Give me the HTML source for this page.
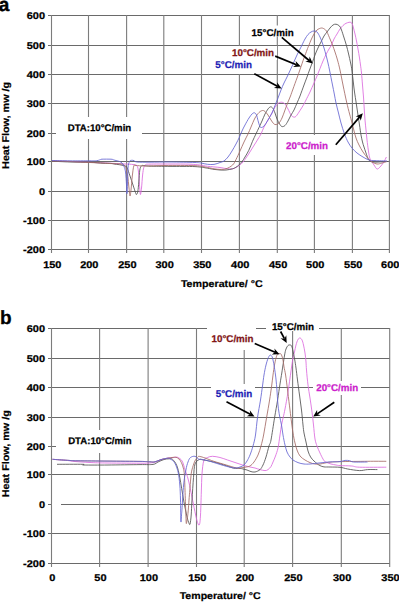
<!DOCTYPE html>
<html><head><meta charset="utf-8"><style>
html,body{margin:0;padding:0;background:#fff;}
body{width:399px;height:602px;overflow:hidden;}
svg{display:block;}
text{font-family:"Liberation Sans",sans-serif;font-weight:bold;text-rendering:geometricPrecision;}
</style></head><body>
<svg width="399" height="602" viewBox="0 0 399 602">
<rect width="399" height="602" fill="#fff"/>
<rect x="48" y="15" width="342" height="1" fill="#6a6a6a"/>
<rect x="48" y="45" width="342" height="1" fill="#6a6a6a"/>
<rect x="48" y="74" width="342" height="1" fill="#6a6a6a"/>
<rect x="48" y="103" width="342" height="1" fill="#6a6a6a"/>
<rect x="48" y="133" width="342" height="1" fill="#6a6a6a"/>
<rect x="48" y="161" width="342" height="1" fill="#6a6a6a"/>
<rect x="48" y="191" width="342" height="1" fill="#6a6a6a"/>
<rect x="48" y="220" width="342" height="1" fill="#6a6a6a"/>
<rect x="48" y="249" width="342" height="1" fill="#6a6a6a"/>
<rect x="50.95" y="15" width="1.1" height="238" fill="#7c7c7c"/>
<rect x="87.95" y="15" width="1.1" height="238" fill="#7c7c7c"/>
<rect x="126.05" y="15" width="1.1" height="238" fill="#7c7c7c"/>
<rect x="163.25" y="15" width="1.1" height="238" fill="#7c7c7c"/>
<rect x="200.95" y="15" width="1.1" height="238" fill="#7c7c7c"/>
<rect x="238.85" y="15" width="1.1" height="238" fill="#7c7c7c"/>
<rect x="276.75" y="15" width="1.1" height="238" fill="#7c7c7c"/>
<rect x="313.84999999999997" y="15" width="1.1" height="238" fill="#7c7c7c"/>
<rect x="351.84999999999997" y="15" width="1.1" height="238" fill="#7c7c7c"/>
<rect x="388.84999999999997" y="15" width="1.1" height="238" fill="#7c7c7c"/>
<text transform="translate(45,18.5) scale(1.12,1)" font-size="9.8" text-anchor="end" fill="#000" stroke="#000" stroke-width="0.25">600</text>
<text transform="translate(45,48.5) scale(1.12,1)" font-size="9.8" text-anchor="end" fill="#000" stroke="#000" stroke-width="0.25">500</text>
<text transform="translate(45,77.5) scale(1.12,1)" font-size="9.8" text-anchor="end" fill="#000" stroke="#000" stroke-width="0.25">400</text>
<text transform="translate(45,106.5) scale(1.12,1)" font-size="9.8" text-anchor="end" fill="#000" stroke="#000" stroke-width="0.25">300</text>
<text transform="translate(45,136.5) scale(1.12,1)" font-size="9.8" text-anchor="end" fill="#000" stroke="#000" stroke-width="0.25">200</text>
<text transform="translate(45,164.5) scale(1.12,1)" font-size="9.8" text-anchor="end" fill="#000" stroke="#000" stroke-width="0.25">100</text>
<text transform="translate(45,194.5) scale(1.12,1)" font-size="9.8" text-anchor="end" fill="#000" stroke="#000" stroke-width="0.25">0</text>
<text transform="translate(45,223.5) scale(1.12,1)" font-size="9.8" text-anchor="end" fill="#000" stroke="#000" stroke-width="0.25">-100</text>
<text transform="translate(45,252.5) scale(1.12,1)" font-size="9.8" text-anchor="end" fill="#000" stroke="#000" stroke-width="0.25">-200</text>
<text transform="translate(52.3,267.5) scale(1.12,1)" font-size="9.8" text-anchor="middle" fill="#000" stroke="#000" stroke-width="0.25">150</text>
<text transform="translate(89.3,267.5) scale(1.12,1)" font-size="9.8" text-anchor="middle" fill="#000" stroke="#000" stroke-width="0.25">200</text>
<text transform="translate(127.39999999999999,267.5) scale(1.12,1)" font-size="9.8" text-anchor="middle" fill="#000" stroke="#000" stroke-width="0.25">250</text>
<text transform="translate(164.60000000000002,267.5) scale(1.12,1)" font-size="9.8" text-anchor="middle" fill="#000" stroke="#000" stroke-width="0.25">300</text>
<text transform="translate(202.3,267.5) scale(1.12,1)" font-size="9.8" text-anchor="middle" fill="#000" stroke="#000" stroke-width="0.25">350</text>
<text transform="translate(240.20000000000002,267.5) scale(1.12,1)" font-size="9.8" text-anchor="middle" fill="#000" stroke="#000" stroke-width="0.25">400</text>
<text transform="translate(278.1,267.5) scale(1.12,1)" font-size="9.8" text-anchor="middle" fill="#000" stroke="#000" stroke-width="0.25">450</text>
<text transform="translate(315.2,267.5) scale(1.12,1)" font-size="9.8" text-anchor="middle" fill="#000" stroke="#000" stroke-width="0.25">500</text>
<text transform="translate(353.2,267.5) scale(1.12,1)" font-size="9.8" text-anchor="middle" fill="#000" stroke="#000" stroke-width="0.25">550</text>
<text transform="translate(390.2,267.5) scale(1.12,1)" font-size="9.8" text-anchor="middle" fill="#000" stroke="#000" stroke-width="0.25">600</text>
<rect x="56" y="117" width="86" height="22" fill="#fff"/>
<rect x="281" y="135" width="53" height="20" fill="#fff"/>
<rect x="249" y="25.5" width="47" height="11" fill="#fff"/>
<rect x="230" y="46" width="47" height="14" fill="#fff"/>
<rect x="212" y="60" width="42" height="14" fill="#fff"/>
<path d="M52.0 160.8 C55.0 160.9 63.7 161.2 70.0 161.5 C76.3 161.8 83.3 162.0 90.0 162.3 C96.7 162.6 104.2 162.9 110.0 163.2 C115.8 163.5 121.2 163.8 125.0 164.0 C128.8 164.2 131.0 164.2 133.0 164.5 C135.0 164.8 136.1 164.6 137.0 165.8 C137.9 167.1 138.1 168.8 138.5 172.0 C138.9 175.2 139.2 181.2 139.5 185.0 C139.8 188.8 140.1 194.0 140.4 194.5 C140.7 195.0 141.1 191.2 141.5 188.0 C141.9 184.8 142.2 178.4 142.6 175.0 C143.0 171.6 143.3 169.2 143.8 167.5 C144.3 165.8 144.5 165.4 145.5 164.8 C146.5 164.2 145.9 164.2 150.0 164.1 C154.1 164.0 163.3 164.0 170.0 164.0 C176.7 164.0 185.0 164.0 190.0 164.2 C195.0 164.4 197.1 164.7 200.0 165.0 C202.9 165.3 204.2 165.9 207.5 166.3 C210.8 166.7 216.9 167.1 220.0 167.5 C223.1 167.9 223.9 168.3 226.0 168.5 C228.1 168.7 230.4 169.3 232.6 168.8 C234.8 168.3 237.2 166.8 238.9 165.7 C240.6 164.6 241.5 163.8 243.0 162.0 C244.5 160.2 246.3 157.5 248.0 155.0 C249.7 152.5 251.3 149.7 253.0 147.0 C254.7 144.3 256.7 141.2 258.0 139.0 C259.3 136.8 260.0 136.0 261.0 134.0 C262.0 132.0 262.8 129.3 264.0 127.0 C265.2 124.7 266.7 122.3 268.0 120.0 C269.3 117.7 270.8 115.2 272.0 113.0 C273.2 110.8 274.0 108.6 275.0 107.0 C276.0 105.4 276.9 104.3 278.0 103.5 C279.1 102.7 280.4 102.1 281.6 102.2 C282.8 102.3 283.9 102.9 285.0 104.0 C286.1 105.1 287.0 107.2 288.0 109.0 C289.0 110.8 290.1 113.7 291.0 115.0 C291.9 116.3 292.7 116.8 293.5 117.0 C294.3 117.2 294.9 117.4 296.0 116.3 C297.1 115.2 298.7 112.5 300.0 110.5 C301.3 108.5 303.0 105.8 304.0 104.0 C305.0 102.2 305.0 102.0 306.0 100.0 C307.0 98.0 308.7 94.8 310.0 92.0 C311.3 89.2 312.8 85.7 314.0 83.0 C315.2 80.3 316.0 78.4 317.0 76.0 C318.0 73.6 319.0 71.0 320.0 68.5 C321.0 66.0 322.0 63.3 323.0 61.0 C324.0 58.7 325.0 56.5 326.0 54.5 C327.0 52.5 328.1 50.6 329.0 49.0 C329.9 47.4 330.7 46.7 331.5 45.0 C332.3 43.3 333.1 40.8 334.0 39.0 C334.9 37.2 336.0 35.7 337.0 34.0 C338.0 32.3 339.0 30.4 340.0 29.0 C341.0 27.6 342.0 26.4 343.0 25.5 C344.0 24.6 345.0 23.8 346.0 23.3 C347.0 22.8 348.2 22.5 349.0 22.3 C349.8 22.1 350.4 22.1 351.0 22.4 C351.6 22.7 351.9 23.1 352.3 24.0 C352.7 24.9 353.1 26.3 353.5 28.0 C353.9 29.7 354.5 31.8 355.0 34.0 C355.5 36.2 356.0 38.5 356.5 41.0 C357.0 43.5 357.5 46.2 358.0 49.0 C358.5 51.8 359.1 55.3 359.5 58.0 C359.9 60.7 360.2 62.5 360.5 65.0 C360.8 67.5 361.2 69.7 361.5 73.0 C361.8 76.3 362.2 81.0 362.5 85.0 C362.8 89.0 363.2 93.2 363.5 97.0 C363.8 100.8 363.9 104.2 364.2 108.0 C364.4 111.8 364.7 116.3 365.0 120.0 C365.3 123.7 365.7 126.7 366.0 130.0 C366.3 133.3 366.6 136.7 367.0 140.0 C367.4 143.3 367.9 147.2 368.3 150.0 C368.7 152.8 369.1 155.2 369.5 157.0 C369.9 158.8 370.2 159.2 371.0 160.5 C371.8 161.8 373.0 163.6 374.0 165.0 C375.0 166.4 376.0 168.7 377.0 169.0 C378.0 169.3 378.9 168.1 380.0 167.0 C381.1 165.9 382.4 164.2 383.5 162.5 C384.6 160.8 385.9 157.9 386.4 157.0" fill="none" stroke="#dc6ade" stroke-width="0.85" stroke-linejoin="round"/>
<path d="M52.0 161.2 C55.0 161.3 63.7 161.8 70.0 162.0 C76.3 162.2 84.5 162.1 90.0 162.3 C95.5 162.5 99.5 163.0 103.0 163.2 C106.5 163.4 109.0 163.2 111.0 163.4 C113.0 163.6 113.8 164.0 115.0 164.2 C116.2 164.4 117.0 164.4 118.0 164.5 C119.0 164.6 119.8 164.8 121.0 165.0 C122.2 165.2 124.0 165.6 125.0 166.0 C126.0 166.4 126.2 165.8 127.0 167.5 C127.8 169.2 129.0 173.1 130.0 176.0 C131.0 178.9 132.1 182.2 133.0 185.0 C133.9 187.8 134.9 190.9 135.5 192.5 C136.1 194.1 136.1 194.7 136.5 194.5 C136.9 194.3 137.4 193.6 137.8 191.5 C138.2 189.4 138.5 185.6 138.8 182.0 C139.1 178.4 139.4 172.7 139.8 170.0 C140.2 167.3 140.9 166.6 141.5 165.8 C142.1 165.1 142.1 165.4 143.5 165.5 C144.9 165.6 145.6 166.0 150.0 166.2 C154.4 166.3 162.5 166.3 170.0 166.4 C177.5 166.5 188.8 166.3 195.0 166.6 C201.2 166.9 204.3 167.7 207.5 168.2 C210.7 168.7 211.9 169.1 214.0 169.4 C216.1 169.7 218.0 169.9 220.0 170.0 C222.0 170.1 223.9 170.2 226.0 170.0 C228.1 169.8 230.9 169.3 232.6 168.8 C234.3 168.3 235.0 167.8 236.0 167.2 C237.0 166.6 237.5 166.2 238.5 165.3 C239.5 164.4 240.9 163.0 242.0 161.6 C243.1 160.2 243.9 158.9 245.0 157.0 C246.1 155.1 247.6 152.9 248.8 150.3 C250.1 147.7 251.3 144.1 252.5 141.3 C253.7 138.6 254.9 136.1 256.0 133.8 C257.1 131.5 258.0 129.6 259.0 127.5 C260.0 125.4 261.0 123.2 262.0 121.0 C263.0 118.8 264.0 116.0 265.0 114.0 C266.0 112.0 267.1 110.2 268.0 109.0 C268.9 107.8 269.8 106.9 270.6 106.8 C271.4 106.7 272.3 107.5 273.0 108.5 C273.7 109.5 274.3 111.2 275.0 113.0 C275.7 114.8 276.2 117.2 277.0 119.0 C277.8 120.8 278.8 122.7 279.6 124.0 C280.4 125.3 281.1 126.3 282.0 126.6 C282.9 126.8 284.0 126.4 285.0 125.5 C286.0 124.6 287.0 122.8 288.0 121.0 C289.0 119.2 290.0 116.8 291.0 115.0 C292.0 113.2 293.0 112.0 294.0 110.0 C295.0 108.0 296.0 105.3 297.0 103.0 C298.0 100.7 299.2 98.1 300.0 96.0 C300.8 93.9 301.3 92.3 302.0 90.5 C302.7 88.7 303.2 87.2 304.0 85.0 C304.8 82.8 306.1 79.5 307.0 77.0 C307.9 74.5 308.6 72.5 309.5 70.0 C310.4 67.5 311.6 64.5 312.5 62.0 C313.4 59.5 314.2 57.2 315.0 55.0 C315.8 52.8 316.5 51.2 317.5 49.0 C318.5 46.8 319.9 44.2 321.0 42.0 C322.1 39.8 323.0 37.7 324.0 36.0 C325.0 34.3 326.0 33.3 327.0 32.0 C328.0 30.7 329.0 29.2 330.0 28.0 C331.0 26.8 332.0 25.6 333.0 25.0 C334.0 24.4 334.9 24.0 336.0 24.2 C337.1 24.4 338.6 25.0 339.5 26.0 C340.4 27.0 340.8 28.2 341.5 30.0 C342.2 31.8 343.0 34.5 343.8 37.0 C344.6 39.5 345.5 42.2 346.3 45.0 C347.1 47.8 347.9 51.0 348.6 54.0 C349.3 57.0 350.0 60.2 350.6 63.0 C351.2 65.8 351.6 67.8 352.0 71.0 C352.4 74.2 352.9 78.5 353.3 82.0 C353.7 85.5 354.0 88.5 354.5 92.0 C355.0 95.5 355.6 99.2 356.2 103.0 C356.8 106.8 357.4 111.3 358.0 115.0 C358.6 118.7 359.0 121.7 359.5 125.0 C360.0 128.3 360.5 132.2 361.0 135.0 C361.5 137.8 362.0 140.0 362.5 142.0 C363.0 144.0 363.4 145.2 364.0 147.0 C364.6 148.8 365.2 150.8 366.0 153.0 C366.8 155.2 367.8 158.5 369.0 160.0 C370.2 161.5 371.3 161.7 373.0 162.0 C374.7 162.3 377.0 162.1 379.0 162.0 C381.0 161.9 383.5 161.6 385.0 161.5 C386.5 161.4 387.5 161.5 388.0 161.5" fill="none" stroke="#505050" stroke-width="0.85" stroke-linejoin="round"/>
<path d="M52.0 161.0 C55.0 161.1 63.7 161.2 70.0 161.5 C76.3 161.8 83.3 162.2 90.0 162.5 C96.7 162.8 104.8 163.2 110.0 163.5 C115.2 163.8 118.5 163.6 121.0 164.0 C123.5 164.4 123.9 164.2 125.0 166.0 C126.1 167.8 126.8 171.3 127.5 175.0 C128.2 178.7 128.6 184.5 129.0 188.0 C129.4 191.5 129.7 195.7 130.0 196.0 C130.3 196.3 130.6 193.3 131.0 190.0 C131.4 186.7 131.8 180.0 132.3 176.0 C132.8 172.0 133.2 167.8 133.8 166.0 C134.4 164.2 134.1 165.5 136.0 165.5 C137.9 165.5 140.2 166.0 145.0 166.0 C149.8 166.0 156.7 165.6 165.0 165.5 C173.3 165.4 187.9 165.4 195.0 165.7 C202.1 166.0 204.3 167.0 207.5 167.5 C210.7 168.0 211.9 168.5 214.0 168.8 C216.1 169.1 218.0 169.4 220.0 169.4 C222.0 169.4 223.9 169.5 226.0 168.8 C228.1 168.1 230.9 166.6 232.6 165.0 C234.3 163.4 234.8 161.8 236.0 159.5 C237.2 157.2 238.7 153.9 240.0 151.0 C241.3 148.1 242.7 144.8 244.0 142.0 C245.3 139.2 246.8 136.5 248.0 134.0 C249.2 131.5 249.8 129.7 251.0 127.0 C252.2 124.3 253.7 120.4 255.0 118.0 C256.3 115.6 257.8 113.8 259.0 112.5 C260.2 111.2 261.5 110.7 262.5 110.5 C263.5 110.3 264.1 110.8 265.0 111.5 C265.9 112.2 267.0 113.6 268.0 115.0 C269.0 116.4 270.1 118.6 271.0 120.0 C271.9 121.4 272.8 122.8 273.6 123.6 C274.4 124.4 275.1 124.7 276.0 124.6 C276.9 124.5 278.0 124.1 279.0 123.0 C280.0 121.9 281.0 120.2 282.0 118.0 C283.0 115.8 284.0 112.7 285.0 110.0 C286.0 107.3 287.1 104.3 288.0 102.0 C288.9 99.7 289.7 98.2 290.5 96.0 C291.3 93.8 291.9 92.0 293.0 89.0 C294.1 86.0 295.8 81.2 297.0 78.0 C298.2 74.8 298.8 72.8 300.0 69.5 C301.2 66.2 302.8 61.2 304.0 58.0 C305.2 54.8 306.2 52.2 307.0 50.0 C307.8 47.8 308.3 46.7 309.0 45.0 C309.7 43.3 310.2 41.8 311.0 40.0 C311.8 38.2 313.0 35.7 314.0 34.0 C315.0 32.3 315.8 31.0 317.0 30.0 C318.2 29.0 320.2 28.1 321.5 28.0 C322.8 27.9 324.1 28.8 325.0 29.5 C325.9 30.2 326.2 30.4 327.0 32.0 C327.8 33.6 329.1 36.8 330.0 39.0 C330.9 41.2 331.7 42.8 332.5 45.0 C333.3 47.2 334.2 49.5 335.0 52.0 C335.8 54.5 336.7 57.0 337.5 60.0 C338.3 63.0 339.1 65.8 340.0 70.0 C340.9 74.2 341.9 79.7 343.0 85.0 C344.1 90.3 345.5 97.2 346.6 102.0 C347.7 106.8 348.7 110.7 349.6 114.0 C350.5 117.3 351.1 119.3 351.8 122.0 C352.5 124.7 353.1 127.3 353.8 130.0 C354.5 132.7 355.1 135.5 356.0 138.0 C356.9 140.5 357.8 142.7 359.0 145.0 C360.2 147.3 361.5 149.8 363.0 152.0 C364.5 154.2 366.5 156.8 368.0 158.5 C369.5 160.2 370.5 161.1 372.0 162.0 C373.5 162.9 375.3 163.8 377.0 164.0 C378.7 164.2 380.3 163.4 382.0 163.0 C383.7 162.6 386.2 161.8 387.0 161.5" fill="none" stroke="#a46a66" stroke-width="0.85" stroke-linejoin="round"/>
<path d="M52.0 160.5 C55.0 160.6 63.7 160.8 70.0 160.8 C76.3 160.9 85.5 160.8 90.0 160.8 C94.5 160.8 95.3 160.8 97.0 160.6 C98.7 160.4 99.2 160.0 100.0 159.8 C100.8 159.6 100.2 159.3 102.0 159.2 C103.8 159.1 109.0 159.1 111.0 159.2 C113.0 159.3 113.0 159.7 114.0 160.0 C115.0 160.3 116.1 160.6 117.0 160.8 C117.9 161.1 118.8 161.1 119.6 161.5 C120.4 161.9 121.3 162.2 122.0 163.0 C122.7 163.8 123.4 165.0 124.0 166.5 C124.6 168.0 125.1 168.9 125.5 172.0 C125.9 175.1 126.3 181.4 126.5 185.0 C126.7 188.6 126.8 193.7 126.9 193.7 C127.1 193.7 127.2 189.3 127.4 185.0 C127.6 180.7 127.7 171.9 128.0 168.0 C128.3 164.1 128.9 162.8 129.5 161.5 C130.1 160.2 130.8 160.5 131.5 160.3 C132.2 160.2 133.1 160.3 134.0 160.6 C134.9 160.9 134.3 161.7 137.0 162.0 C139.7 162.3 144.5 162.2 150.0 162.2 C155.5 162.2 162.5 161.9 170.0 162.0 C177.5 162.1 189.8 162.3 195.0 162.5 C200.2 162.7 198.9 162.7 201.0 163.0 C203.1 163.3 205.3 164.1 207.5 164.3 C209.7 164.5 211.9 164.7 214.0 164.4 C216.1 164.1 218.3 163.1 220.0 162.5 C221.7 161.9 222.7 161.9 224.0 161.0 C225.3 160.1 226.7 158.7 228.0 157.0 C229.3 155.3 230.7 153.2 232.0 151.0 C233.3 148.8 234.8 146.3 236.0 144.0 C237.2 141.7 238.5 139.2 239.5 137.0 C240.5 134.8 241.1 133.0 242.0 131.0 C242.9 129.0 243.8 127.2 245.0 125.0 C246.2 122.8 247.8 119.8 249.0 118.0 C250.2 116.2 251.1 114.9 252.0 114.0 C252.9 113.1 253.8 112.6 254.5 112.8 C255.2 113.0 255.9 113.7 256.5 115.0 C257.1 116.3 257.5 118.8 258.0 120.5 C258.5 122.2 259.0 124.3 259.5 125.5 C260.0 126.7 260.2 127.4 261.0 127.5 C261.8 127.6 262.8 127.2 264.0 126.0 C265.2 124.8 266.7 122.2 268.0 120.0 C269.3 117.8 270.8 115.4 272.0 113.0 C273.2 110.6 274.0 108.0 275.0 105.5 C276.0 103.0 277.0 100.6 278.0 98.0 C279.0 95.4 280.0 92.5 281.0 90.0 C282.0 87.5 282.8 85.5 284.0 83.0 C285.2 80.5 286.6 78.0 288.0 75.0 C289.4 72.0 291.1 68.3 292.6 65.0 C294.1 61.7 295.4 58.3 297.0 55.0 C298.6 51.7 300.7 47.7 302.0 45.0 C303.3 42.3 304.0 40.8 305.0 39.0 C306.0 37.2 307.0 35.7 308.0 34.5 C309.0 33.3 310.0 32.6 311.0 32.0 C312.0 31.4 313.0 31.0 314.0 31.0 C315.0 31.0 316.0 31.0 317.0 32.0 C318.0 33.0 319.2 35.3 320.0 37.0 C320.8 38.7 321.3 40.2 322.0 42.0 C322.7 43.8 323.3 45.8 324.0 48.0 C324.7 50.2 325.3 52.5 326.0 55.0 C326.7 57.5 327.4 60.5 328.0 63.0 C328.6 65.5 329.0 67.6 329.5 70.0 C330.0 72.4 330.5 75.0 331.0 77.5 C331.5 80.0 331.9 82.2 332.5 85.0 C333.1 87.8 333.7 91.0 334.3 94.0 C334.9 97.0 335.3 99.8 336.0 103.0 C336.7 106.2 337.7 109.7 338.5 113.0 C339.3 116.3 340.0 119.5 341.0 123.0 C342.0 126.5 343.3 130.8 344.5 134.0 C345.7 137.2 346.8 139.7 348.0 142.0 C349.2 144.3 350.5 146.2 352.0 148.0 C353.5 149.8 355.2 151.5 357.0 153.0 C358.8 154.5 361.0 155.8 363.0 157.0 C365.0 158.2 367.0 159.4 369.0 160.0 C371.0 160.6 372.0 160.4 375.0 160.6 C378.0 160.8 385.0 160.9 387.0 161.0" fill="none" stroke="#6464d2" stroke-width="0.85" stroke-linejoin="round"/>
<text x="251.6" y="35.6" font-size="9.8" text-anchor="start" fill="#000" stroke="#000" stroke-width="0.25">15°C/min</text>
<text x="232" y="55.5" font-size="9.8" text-anchor="start" fill="#821616" stroke="#821616" stroke-width="0.25">10°C/min</text>
<text x="215.3" y="68.3" font-size="9.8" text-anchor="start" fill="#1e1eb4" stroke="#1e1eb4" stroke-width="0.25">5°C/min</text>
<text x="67.8" y="131.1" font-size="9.6" text-anchor="start" fill="#000" stroke="#000" stroke-width="0.25">DTA:10°C/min</text>
<text x="286" y="149.1" font-size="9.8" text-anchor="start" fill="#cc22cc" stroke="#cc22cc" stroke-width="0.25">20°C/min</text>
<line x1="281.8" y1="37.4" x2="309.1" y2="60.5" stroke="#000" stroke-width="1.7"/>
<polygon points="312.8,63.6 305.3,61.6 309.1,60.5 309.6,56.6" fill="#000"/>
<line x1="275.2" y1="56.1" x2="296.4" y2="64.8" stroke="#000" stroke-width="1.7"/>
<polygon points="300.8,66.6 293.1,67.0 296.4,64.8 295.6,60.9" fill="#000"/>
<line x1="254.3" y1="73.8" x2="277.4" y2="86.2" stroke="#000" stroke-width="1.7"/>
<polygon points="281.6,88.5 273.9,88.1 277.4,86.2 277.0,82.3" fill="#000"/>
<line x1="335.8" y1="144.7" x2="359.7" y2="116.9" stroke="#000" stroke-width="1.7"/>
<polygon points="362.8,113.3 360.7,120.8 359.7,116.9 355.7,116.5" fill="#000"/>
<rect x="48" y="328" width="342" height="1" fill="#6a6a6a"/>
<rect x="48" y="358" width="342" height="1" fill="#6a6a6a"/>
<rect x="48" y="387" width="342" height="1" fill="#6a6a6a"/>
<rect x="48" y="417" width="342" height="1" fill="#6a6a6a"/>
<rect x="48" y="446" width="342" height="1" fill="#6a6a6a"/>
<rect x="48" y="474" width="342" height="1" fill="#6a6a6a"/>
<rect x="48" y="504" width="342" height="1" fill="#6a6a6a"/>
<rect x="48" y="533" width="342" height="1" fill="#6a6a6a"/>
<rect x="48" y="563" width="342" height="1" fill="#6a6a6a"/>
<rect x="50.95" y="328" width="1.1" height="239" fill="#7c7c7c"/>
<rect x="99.05" y="328" width="1.1" height="239" fill="#7c7c7c"/>
<rect x="147.54999999999998" y="328" width="1.1" height="239" fill="#7c7c7c"/>
<rect x="195.95" y="328" width="1.1" height="239" fill="#7c7c7c"/>
<rect x="243.64999999999998" y="328" width="1.1" height="239" fill="#7c7c7c"/>
<rect x="292.05" y="328" width="1.1" height="239" fill="#7c7c7c"/>
<rect x="340.75" y="328" width="1.1" height="239" fill="#7c7c7c"/>
<rect x="389.15" y="328" width="1.1" height="239" fill="#7c7c7c"/>
<text transform="translate(45,331.5) scale(1.12,1)" font-size="9.8" text-anchor="end" fill="#000" stroke="#000" stroke-width="0.25">600</text>
<text transform="translate(45,361.5) scale(1.12,1)" font-size="9.8" text-anchor="end" fill="#000" stroke="#000" stroke-width="0.25">500</text>
<text transform="translate(45,390.5) scale(1.12,1)" font-size="9.8" text-anchor="end" fill="#000" stroke="#000" stroke-width="0.25">400</text>
<text transform="translate(45,420.5) scale(1.12,1)" font-size="9.8" text-anchor="end" fill="#000" stroke="#000" stroke-width="0.25">300</text>
<text transform="translate(45,449.5) scale(1.12,1)" font-size="9.8" text-anchor="end" fill="#000" stroke="#000" stroke-width="0.25">200</text>
<text transform="translate(45,477.5) scale(1.12,1)" font-size="9.8" text-anchor="end" fill="#000" stroke="#000" stroke-width="0.25">100</text>
<text transform="translate(45,507.5) scale(1.12,1)" font-size="9.8" text-anchor="end" fill="#000" stroke="#000" stroke-width="0.25">0</text>
<text transform="translate(45,536.5) scale(1.12,1)" font-size="9.8" text-anchor="end" fill="#000" stroke="#000" stroke-width="0.25">-100</text>
<text transform="translate(45,566.5) scale(1.12,1)" font-size="9.8" text-anchor="end" fill="#000" stroke="#000" stroke-width="0.25">-200</text>
<text transform="translate(52.3,581) scale(1.12,1)" font-size="9.8" text-anchor="middle" fill="#000" stroke="#000" stroke-width="0.25">0</text>
<text transform="translate(100.39999999999999,581) scale(1.12,1)" font-size="9.8" text-anchor="middle" fill="#000" stroke="#000" stroke-width="0.25">50</text>
<text transform="translate(148.9,581) scale(1.12,1)" font-size="9.8" text-anchor="middle" fill="#000" stroke="#000" stroke-width="0.25">100</text>
<text transform="translate(197.3,581) scale(1.12,1)" font-size="9.8" text-anchor="middle" fill="#000" stroke="#000" stroke-width="0.25">150</text>
<text transform="translate(245.0,581) scale(1.12,1)" font-size="9.8" text-anchor="middle" fill="#000" stroke="#000" stroke-width="0.25">200</text>
<text transform="translate(293.40000000000003,581) scale(1.12,1)" font-size="9.8" text-anchor="middle" fill="#000" stroke="#000" stroke-width="0.25">250</text>
<text transform="translate(342.1,581) scale(1.12,1)" font-size="9.8" text-anchor="middle" fill="#000" stroke="#000" stroke-width="0.25">300</text>
<text transform="translate(390.5,581) scale(1.12,1)" font-size="9.8" text-anchor="middle" fill="#000" stroke="#000" stroke-width="0.25">350</text>
<rect x="52" y="504" width="9" height="1" fill="#fff"/>
<rect x="56" y="430" width="91" height="23" fill="#fff"/>
<rect x="266" y="318" width="53" height="13" fill="#fff"/>
<rect x="207" y="322" width="49" height="28" fill="#fff"/>
<rect x="211" y="384" width="44" height="15" fill="#fff"/>
<rect x="313" y="381" width="48" height="14" fill="#fff"/>
<path d="M52.5 459.3 C55.0 459.5 63.8 460.1 67.5 460.5 C71.2 460.9 71.2 461.2 75.0 461.5 C78.8 461.8 84.5 462.2 90.0 462.5 C95.5 462.8 99.0 462.9 108.0 463.0 C117.0 463.1 136.7 463.2 144.0 463.2 C151.3 463.1 150.0 462.9 152.0 462.7 C154.0 462.5 154.5 462.3 156.0 461.8 C157.5 461.3 159.0 460.2 161.0 459.6 C163.0 459.0 165.8 458.5 168.0 458.1 C170.2 457.8 172.3 457.6 173.9 457.5 C175.5 457.4 176.2 456.7 177.6 457.3 C179.0 457.9 180.8 458.9 182.1 461.0 C183.3 463.1 184.1 467.0 185.1 470.0 C186.1 473.0 187.1 475.2 188.1 479.0 C189.1 482.8 190.1 487.8 191.1 492.6 C192.1 497.4 193.1 503.0 194.1 507.7 C195.1 512.4 196.2 518.1 197.1 521.0 C198.0 523.9 198.7 526.0 199.3 525.0 C199.9 524.0 200.2 520.5 200.5 515.0 C200.8 509.5 201.1 498.8 201.3 492.0 C201.6 485.2 201.6 479.2 202.0 474.0 C202.4 468.8 202.9 463.4 203.8 460.7 C204.7 457.9 206.1 458.2 207.5 457.5 C208.9 456.8 210.4 456.3 212.5 456.3 C214.6 456.3 217.5 456.9 220.0 457.5 C222.5 458.1 225.1 459.2 227.6 460.0 C230.1 460.8 232.5 461.7 235.0 462.5 C237.5 463.3 240.9 464.5 242.6 465.0 C244.3 465.5 243.8 465.4 245.0 465.7 C246.2 466.0 248.3 466.6 250.0 467.0 C251.7 467.4 253.3 467.6 255.0 468.0 C256.7 468.4 258.3 469.2 260.0 469.6 C261.7 470.0 263.7 470.6 265.0 470.6 C266.3 470.6 267.0 470.3 268.0 469.6 C269.0 468.9 270.2 467.8 271.0 466.5 C271.8 465.2 272.2 463.8 273.0 462.0 C273.8 460.2 274.7 458.3 275.5 456.0 C276.3 453.7 277.2 451.5 278.0 448.0 C278.8 444.5 279.4 438.8 280.0 435.0 C280.6 431.2 280.9 428.0 281.5 425.0 C282.1 422.0 282.7 419.7 283.3 417.0 C283.9 414.3 284.2 413.2 285.0 409.0 C285.8 404.8 287.0 398.3 288.0 392.0 C289.0 385.7 290.2 376.7 291.0 371.0 C291.8 365.3 292.4 361.2 293.0 358.0 C293.6 354.8 294.0 354.2 294.5 352.0 C295.0 349.8 295.4 347.1 296.0 345.0 C296.6 342.9 297.3 340.7 298.0 339.5 C298.7 338.3 299.3 337.9 300.0 338.0 C300.7 338.1 301.4 338.8 302.0 340.0 C302.6 341.2 303.0 342.8 303.5 345.0 C304.0 347.2 304.6 350.2 305.0 353.0 C305.4 355.8 305.8 359.2 306.0 362.0 C306.2 364.8 306.2 366.2 306.5 370.0 C306.8 373.8 307.4 380.3 308.0 385.0 C308.6 389.7 309.3 393.5 310.0 398.0 C310.7 402.5 311.4 407.5 312.0 412.0 C312.6 416.5 313.0 420.5 313.5 425.0 C314.0 429.5 314.4 435.5 315.0 439.0 C315.6 442.5 316.2 443.7 317.0 446.0 C317.8 448.3 319.0 450.8 320.0 453.0 C321.0 455.2 322.2 457.6 323.0 459.0 C323.8 460.4 323.8 460.6 324.5 461.2 C325.2 461.8 325.9 462.1 327.0 462.6 C328.1 463.1 329.5 463.6 331.0 464.0 C332.5 464.4 334.5 464.7 336.0 465.0 C337.5 465.3 337.4 465.4 340.0 465.6 C342.6 465.8 348.4 465.7 351.7 466.0 C355.0 466.3 353.8 467.0 359.6 467.2 C365.4 467.4 381.9 467.2 386.3 467.2" fill="none" stroke="#dc6ade" stroke-width="0.85" stroke-linejoin="round"/>
<path d="M57.0 464.3 C61.3 464.3 78.1 464.2 82.6 464.3 C87.1 464.4 79.8 464.9 84.0 465.0 C88.2 465.1 98.7 465.1 108.0 465.0 C117.3 464.9 132.5 464.7 140.0 464.6 C147.5 464.5 150.0 464.8 153.0 464.4 C156.0 464.0 156.2 462.8 158.0 462.0 C159.8 461.2 162.2 460.0 164.0 459.5 C165.8 459.0 167.6 458.8 169.0 458.8 C170.4 458.8 171.3 458.3 172.6 459.4 C173.9 460.5 175.6 462.6 176.8 465.6 C178.0 468.6 178.7 471.9 179.8 477.6 C180.9 483.3 182.5 493.8 183.6 500.0 C184.7 506.2 185.8 511.3 186.6 515.0 C187.4 518.7 187.9 520.5 188.5 522.0 C189.1 523.5 189.6 525.4 190.0 524.2 C190.4 523.0 190.9 519.0 191.2 515.0 C191.5 511.0 191.6 506.2 192.0 500.0 C192.4 493.8 193.0 483.6 193.5 477.6 C194.0 471.6 194.0 467.0 195.0 464.0 C196.0 461.0 198.0 460.2 199.5 459.5 C201.0 458.8 201.4 459.6 203.8 460.0 C206.2 460.4 210.1 461.1 213.8 462.0 C217.6 462.9 223.0 464.7 226.3 465.7 C229.6 466.7 231.5 467.8 233.8 468.2 C236.1 468.6 238.5 468.3 240.0 468.4 C241.5 468.5 241.8 468.7 243.0 469.0 C244.2 469.3 245.7 469.6 247.0 470.0 C248.3 470.4 249.7 471.3 251.0 471.6 C252.3 471.9 253.5 472.3 255.0 472.0 C256.5 471.7 258.7 470.8 260.0 469.6 C261.3 468.4 262.0 467.1 263.0 465.0 C264.0 462.9 265.0 460.2 266.0 457.0 C267.0 453.8 268.2 448.8 269.0 446.0 C269.8 443.2 270.1 444.8 271.0 440.0 C271.9 435.2 273.5 424.2 274.6 417.5 C275.7 410.8 276.7 405.6 277.6 400.0 C278.5 394.4 279.3 388.5 280.0 384.0 C280.7 379.5 281.3 376.2 281.8 373.0 C282.3 369.8 282.5 368.0 283.0 365.0 C283.5 362.0 284.1 357.7 284.6 355.0 C285.1 352.3 285.4 350.6 286.0 349.0 C286.6 347.4 287.3 346.2 288.0 345.5 C288.7 344.8 289.4 344.9 290.0 345.0 C290.6 345.1 291.1 345.0 291.6 346.0 C292.1 347.0 292.5 348.8 293.0 351.0 C293.5 353.2 294.1 356.2 294.6 359.0 C295.1 361.8 295.5 364.5 296.0 368.0 C296.5 371.5 296.9 375.5 297.5 380.0 C298.1 384.5 298.8 390.0 299.5 395.0 C300.2 400.0 300.9 405.0 301.5 410.0 C302.1 415.0 302.6 421.2 303.0 425.0 C303.4 428.8 303.5 430.2 304.0 433.0 C304.5 435.8 305.3 439.0 306.0 442.0 C306.7 445.0 307.2 448.5 308.0 451.0 C308.8 453.5 309.6 455.3 310.6 457.0 C311.6 458.7 312.9 459.9 314.0 461.0 C315.1 462.1 316.0 462.8 317.0 463.6 C318.0 464.4 318.8 465.1 320.0 465.6 C321.2 466.2 322.3 466.7 324.0 466.9 C325.7 467.1 327.3 466.9 330.0 467.0 C332.7 467.1 337.1 467.0 340.0 467.3 C342.9 467.6 344.4 468.4 347.7 469.0 C351.0 469.6 356.3 470.5 359.6 470.6 C362.9 470.7 364.5 469.8 367.5 469.6 C370.5 469.4 375.8 469.6 377.4 469.6" fill="none" stroke="#505050" stroke-width="0.85" stroke-linejoin="round"/>
<path d="M52.5 459.3 C55.0 459.5 63.2 460.1 67.5 460.3 C71.8 460.6 71.2 460.7 78.0 460.8 C84.8 460.9 97.7 461.0 108.0 461.1 C118.3 461.2 133.0 461.3 140.0 461.4 C147.0 461.5 147.5 461.7 150.0 461.8 C152.5 461.9 153.2 462.2 155.0 461.8 C156.8 461.4 158.9 460.2 161.0 459.6 C163.1 459.0 165.6 458.6 167.6 458.2 C169.6 457.8 171.6 457.5 173.0 457.4 C174.4 457.2 175.0 457.0 176.0 457.3 C177.0 457.6 178.1 458.1 179.0 459.0 C179.9 459.9 180.7 461.1 181.4 462.6 C182.1 464.1 182.8 465.9 183.3 468.0 C183.8 470.1 184.1 470.9 184.4 475.0 C184.7 479.1 184.8 485.9 185.1 492.6 C185.3 499.3 185.7 509.9 185.9 515.0 C186.1 520.1 186.1 522.8 186.3 523.5 C186.5 524.2 186.9 520.9 187.2 519.0 C187.5 517.1 187.7 516.4 188.1 512.0 C188.5 507.6 189.1 498.3 189.6 492.6 C190.1 486.9 190.4 481.8 190.8 478.0 C191.2 474.2 191.2 472.8 191.9 470.0 C192.6 467.2 193.9 463.2 194.9 461.0 C195.9 458.8 197.2 457.6 198.0 456.8 C198.8 456.1 198.8 456.3 200.0 456.5 C201.2 456.7 202.7 457.2 205.0 458.0 C207.3 458.8 210.2 460.1 213.8 461.3 C217.4 462.5 222.8 463.9 226.3 465.0 C229.8 466.1 232.7 467.1 235.0 467.6 C237.3 468.1 238.2 468.1 240.0 468.0 C241.8 467.9 244.3 467.3 246.0 467.0 C247.7 466.7 248.7 466.8 250.0 466.0 C251.3 465.2 252.7 463.8 254.0 462.0 C255.3 460.2 256.8 457.7 258.0 455.0 C259.2 452.3 260.1 449.3 261.0 446.0 C261.9 442.7 262.7 439.8 263.6 435.0 C264.5 430.2 265.6 423.3 266.6 417.5 C267.6 411.7 268.8 405.1 269.6 400.0 C270.4 394.9 270.9 391.2 271.5 387.0 C272.1 382.8 272.5 378.7 273.0 375.0 C273.5 371.3 274.0 367.8 274.5 365.0 C275.0 362.2 275.5 359.8 276.0 358.0 C276.5 356.2 276.8 355.2 277.5 354.5 C278.2 353.8 279.3 353.4 280.0 353.5 C280.7 353.6 281.0 353.9 281.5 355.0 C282.0 356.1 282.6 358.0 283.0 360.0 C283.4 362.0 283.6 364.5 284.0 367.0 C284.4 369.5 285.0 370.8 285.6 375.0 C286.2 379.2 287.1 386.2 287.8 392.0 C288.5 397.8 289.4 405.0 290.0 410.0 C290.6 415.0 291.0 418.2 291.5 422.0 C292.0 425.8 292.4 429.5 293.0 433.0 C293.6 436.5 294.3 440.2 295.0 443.0 C295.7 445.8 296.2 447.8 297.0 450.0 C297.8 452.2 298.7 454.3 300.0 456.0 C301.3 457.7 303.3 458.9 305.0 460.0 C306.7 461.1 308.3 461.9 310.0 462.6 C311.7 463.3 313.3 463.8 315.0 464.0 C316.7 464.2 318.3 464.2 320.0 464.0 C321.7 463.8 323.3 463.3 325.0 463.0 C326.7 462.7 327.5 462.4 330.0 462.2 C332.5 462.0 333.8 461.8 340.0 461.6 C346.2 461.5 359.8 461.4 367.5 461.3 C375.2 461.2 383.2 461.3 386.3 461.3" fill="none" stroke="#a46a66" stroke-width="0.85" stroke-linejoin="round"/>
<path d="M52.5 459.3 C55.0 459.5 63.2 460.1 67.5 460.3 C71.8 460.6 71.2 460.7 78.0 460.8 C84.8 460.9 97.7 461.0 108.0 461.1 C118.3 461.2 133.0 461.3 140.0 461.4 C147.0 461.5 147.5 461.7 150.0 461.8 C152.5 461.9 153.2 462.2 155.0 461.8 C156.8 461.4 158.9 460.2 161.0 459.6 C163.1 459.0 166.1 458.3 167.6 458.2 C169.1 458.1 169.2 458.4 170.0 458.8 C170.8 459.2 171.6 459.6 172.5 460.5 C173.4 461.4 174.3 461.9 175.3 464.0 C176.3 466.1 177.6 469.5 178.3 473.0 C179.1 476.5 179.4 480.5 179.8 485.0 C180.2 489.5 180.3 493.9 180.5 500.0 C180.7 506.1 180.7 519.0 180.9 521.5 C181.1 524.0 181.3 517.3 181.5 515.0 C181.7 512.7 181.8 512.7 182.1 507.7 C182.4 502.7 183.0 491.3 183.6 485.0 C184.2 478.7 185.2 473.8 185.9 470.0 C186.6 466.2 187.2 464.1 188.0 462.0 C188.8 459.9 189.3 458.4 190.5 457.5 C191.7 456.6 193.6 456.0 195.0 456.3 C196.4 456.6 197.1 458.6 198.8 459.2 C200.5 459.8 202.5 459.4 205.0 460.0 C207.5 460.6 210.2 461.4 213.8 462.5 C217.4 463.6 222.8 465.4 226.3 466.3 C229.8 467.2 232.7 467.9 235.0 468.0 C237.3 468.1 238.5 467.5 240.0 467.0 C241.5 466.5 242.8 466.0 244.0 465.0 C245.2 464.0 246.0 462.7 247.0 461.0 C248.0 459.3 249.0 457.5 250.0 455.0 C251.0 452.5 252.1 449.3 253.0 446.0 C253.9 442.7 254.8 439.8 255.5 435.0 C256.2 430.2 256.7 423.3 257.5 417.5 C258.3 411.7 259.7 405.2 260.5 400.0 C261.3 394.8 261.9 390.2 262.5 386.0 C263.1 381.8 263.4 378.5 264.0 375.0 C264.6 371.5 265.3 367.8 266.0 365.0 C266.7 362.2 267.4 360.1 268.0 358.5 C268.6 356.9 269.1 356.2 269.5 355.6 C269.9 355.0 270.1 354.9 270.5 355.0 C270.9 355.1 271.6 355.7 272.0 356.5 C272.4 357.3 272.7 358.6 273.0 360.0 C273.3 361.4 273.6 362.5 274.0 365.0 C274.4 367.5 275.0 371.2 275.5 375.0 C276.0 378.8 276.4 383.0 276.8 388.0 C277.2 393.0 277.5 400.3 278.0 405.0 C278.5 409.7 279.0 412.7 279.6 416.0 C280.2 419.3 280.9 421.8 281.5 425.0 C282.1 428.2 282.4 431.7 283.0 435.0 C283.6 438.3 284.3 442.2 285.0 445.0 C285.7 447.8 286.2 450.0 287.0 452.0 C287.8 454.0 289.0 455.7 290.0 457.0 C291.0 458.3 291.7 459.1 293.0 460.0 C294.3 460.9 296.2 461.9 298.0 462.6 C299.8 463.3 302.0 463.8 304.0 464.0 C306.0 464.2 307.3 464.2 310.0 464.0 C312.7 463.8 316.7 463.2 320.0 462.9 C323.3 462.5 326.7 462.1 330.0 461.9 C333.3 461.7 337.5 461.9 340.0 461.6 C342.5 461.4 343.4 460.5 345.0 460.4 C346.6 460.2 348.2 460.4 349.7 460.7 C351.1 461.0 350.7 461.8 353.7 462.0 C356.7 462.2 365.2 462.0 367.5 462.0" fill="none" stroke="#6464d2" stroke-width="0.85" stroke-linejoin="round"/>
<text x="271.9" y="330.1" font-size="9.8" text-anchor="start" fill="#000" stroke="#000" stroke-width="0.25">15°C/min</text>
<text x="211.5" y="342.1" font-size="9.8" text-anchor="start" fill="#821616" stroke="#821616" stroke-width="0.25">10°C/min</text>
<text x="215.7" y="397" font-size="9.8" text-anchor="start" fill="#1e1eb4" stroke="#1e1eb4" stroke-width="0.25">5°C/min</text>
<text x="68.2" y="443.9" font-size="9.6" text-anchor="start" fill="#000" stroke="#000" stroke-width="0.25">DTA:10°C/min</text>
<text x="316.2" y="391.4" font-size="9.8" text-anchor="start" fill="#cc22cc" stroke="#cc22cc" stroke-width="0.25">20°C/min</text>
<line x1="280.6" y1="331.5" x2="284.4" y2="338.7" stroke="#000" stroke-width="1.7"/>
<polygon points="286.7,342.9 280.5,338.3 284.4,338.7 286.3,335.2" fill="#000"/>
<line x1="254.7" y1="343.5" x2="275.1" y2="352.3" stroke="#000" stroke-width="1.7"/>
<polygon points="279.5,354.2 271.8,354.5 275.1,352.3 274.4,348.4" fill="#000"/>
<line x1="226.5" y1="401.8" x2="250.3" y2="414.3" stroke="#000" stroke-width="1.7"/>
<polygon points="254.5,416.5 246.8,416.2 250.3,414.3 249.8,410.3" fill="#000"/>
<line x1="334.3" y1="402.2" x2="317.2" y2="413.9" stroke="#000" stroke-width="1.7"/>
<polygon points="313.2,416.6 317.1,409.9 317.2,413.9 320.8,415.4" fill="#000"/>
<text x="-1.2" y="10.6" font-size="19" text-anchor="start" fill="#000" stroke="#000" stroke-width="0.4">a</text>
<text x="0" y="323.9" font-size="19" text-anchor="start" fill="#000" stroke="#000" stroke-width="0.3">b</text>
<text transform="translate(221.8,286.8) scale(1.09,1)" font-size="9.8" text-anchor="middle" fill="#000" stroke="#000" stroke-width="0.2">Temperature/ °C</text>
<text transform="translate(220.2,599.4) scale(1.08,1)" font-size="9.8" text-anchor="middle" fill="#000" stroke="#000" stroke-width="0.2">Temperature/ °C</text>
<text transform="translate(9.3,125.4) rotate(-90) scale(1.1,1)" font-size="9.8" text-anchor="middle" stroke="#000" stroke-width="0.2">Heat Flow, mw /g</text>
<text transform="translate(9.3,453.7) rotate(-90) scale(1.1,1)" font-size="9.8" text-anchor="middle" stroke="#000" stroke-width="0.2">Heat Flow, mw /g</text>
</svg>
</body></html>
